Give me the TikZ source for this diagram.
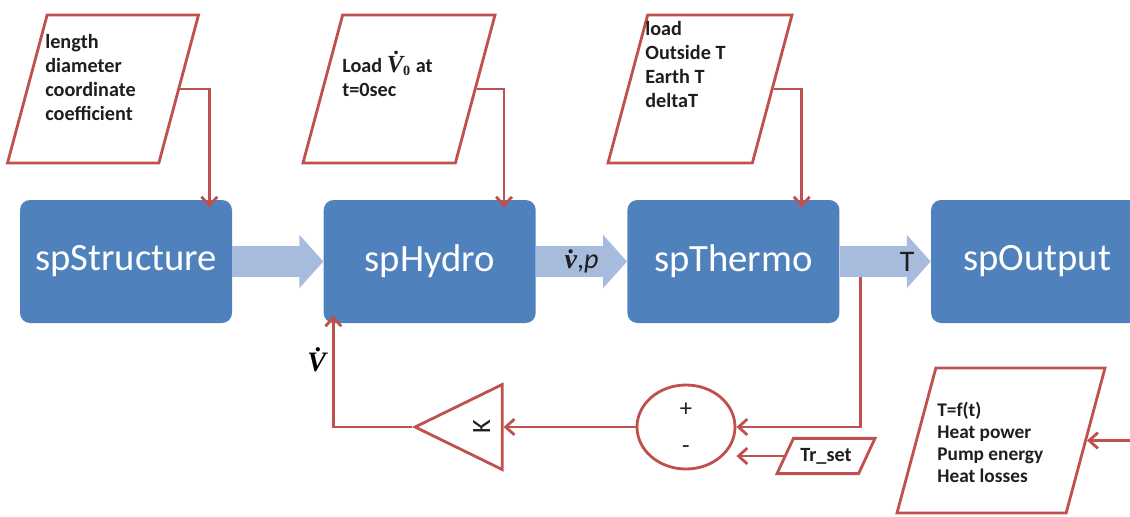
\documentclass[tikz,border=0pt]{standalone}
\usepackage{fontspec}
\usepackage{tikz}
\usetikzlibrary{shapes.geometric, arrows.meta, positioning, calc}
\setmainfont{Carlito}
\newfontfamily\symfont{Liberation Serif}
\definecolor{boxblue}{RGB}{79,129,189}
\definecolor{arrowblue}{RGB}{167,187,221}
\definecolor{linered}{RGB}{192,80,77}
\definecolor{labelgray}{RGB}{30,30,30}

% simboli di portata (grassetto corsivo con punto)
\newcommand{\flowsym}[1]{{\symfont\bfseries\itshape\.{#1}}}

\tikzset{
    block/.style={rectangle, rounded corners=0.2cm, fill=boxblue, text=white, minimum width=4.24cm, minimum height=2.46cm, font=\fontsize{22}{26}\selectfont},
    datain/.style={trapezium, trapezium left angle=75, trapezium right angle=105, trapezium stretches body, draw=linered, line width=1.6pt, inner xsep=0pt, inner ysep=1.48cm},
    flow/.style={draw=linered, line width=1.6pt, -{Straight Barb[length=5pt,width=9pt]}},
    fat/.style={draw=arrowblue, line width=0.62cm, -{Triangle[length=0.48cm,width=1.04cm]}},
    intext/.style={font=\fontsize{11.5}{13.6}\selectfont\bfseries, text=labelgray, align=left, anchor=base west, inner sep=0pt}
}

\begin{document}
\begin{tikzpicture}[node distance=1.82cm]
    \useasboundingbox (0,0) rectangle (22.6,-10.32);

    % Blocchi principali
    \node[block] (struct) at (2.52,-5.23) {spStructure};
    \node[block, right=of struct] (hydro) {spHydro};
    \node[block, right=of hydro] (thermo) {spThermo};
    \node[block, right=of thermo] (output) {spOutput};

    % Frecce tra i blocchi
    \draw[fat] (struct.east) -- (hydro.west);
    \draw[fat] (hydro.east) -- node[text=labelgray, font=\fontsize{16}{18}\selectfont] (vp) {\flowsym{v},\textit{p}} (thermo.west);
    \draw[fat] (thermo.east) -- node[pos=0.74, text=labelgray, font=\fontsize{17}{20}\selectfont] (tlab) {T} (output.west);

    % Dati di ingresso (testo ancorato all'ultima riga)
    \node[datain, minimum width=3.82cm] (in1) at (2.06,-1.78) {};
    \node[intext] (in1txt) at (0.9,-2.4) {length\\diameter\\coordinate\\coefficient};

    \node[datain, minimum width=3.84cm] (in2) at (7.98,-1.78) {};
    \node[intext] (in2txt) at (6.84,-1.92) {Load {\fontsize{14}{16}\selectfont\flowsym{V}}\textsubscript{\symfont\bfseries 0} at\\t=0sec};

    \node[datain, minimum width=3.68cm] (in3) at (14.0,-1.78) {};
    \node[intext] (in3txt) at (12.9,-2.14) {load\\Outside T\\Earth T\\deltaT};

    \draw[flow] (in1.east) -| ([xshift=-0.46cm,yshift=-0.16cm]struct.north east);
    \draw[flow] (in2.east) -| ([xshift=-0.64cm,yshift=-0.16cm]hydro.north east);
    \draw[flow] (in3.east) -| ([xshift=-0.76cm,yshift=-0.16cm]thermo.north east);

    % Anello di regolazione
    \coordinate (tap) at ($(thermo.east)+(0.42,-0.31)$);
    \node[ellipse, draw=linered, line width=1.6pt, minimum width=1.96cm, minimum height=1.68cm, inner sep=0pt] (sum) at (13.72,-8.54) {};
    \node[font=\fontsize{14}{16}\selectfont, text=labelgray] (plus) at ($(sum.center)+(0,0.34)$) {+};
    \node[font=\fontsize{14}{16}\selectfont, text=labelgray] (minus) at ($(sum.center)+(0,-0.46)$) {-};

    \node[datain, trapezium left angle=65, trapezium right angle=115, minimum width=1.96cm, inner ysep=5.5pt, font=\fontsize{11.5}{13.6}\selectfont\bfseries, text=labelgray] (trset) at (16.52,-9.12) {Tr\_set};

    \node[isosceles triangle, isosceles triangle apex angle=54, isosceles triangle stretches, shape border rotate=180, draw=linered, line width=1.6pt, minimum width=1.7cm, minimum height=1.74cm, inner sep=0pt, left=2.64cm of sum] (gain) {};
    \node[rotate=90, font=\fontsize{15}{18}\selectfont, text=labelgray] (klab) at ($(gain.east)+(-0.44,0)$) {K};

    \draw[flow] (tap) |- (sum.east);
    \draw[flow] (trset.west) -- (trset.west -| sum.east);
    \draw[flow] (sum.west) -- (gain.east);
    \draw[flow] (gain.west) -| node[pos=0.8, left, font=\fontsize{16}{18}\selectfont] (vlab) {\flowsym{V}} ([xshift=0.2cm,yshift=0.16cm]hydro.south west);

    % Risultati
    \node[datain, minimum width=4.16cm, inner ysep=1.45cm] (res) at (20.02,-8.81) {};
    \node[intext, font=\fontsize{11}{12.4}\selectfont\bfseries] (restxt) at (18.74,-9.64) {T=f(t)\\Heat power\\Pump energy\\Heat losses};
    \coordinate (resin) at (22.8,-8.81);
    \draw[flow] (resin) -- (res.east);
\end{tikzpicture}
\end{document}
